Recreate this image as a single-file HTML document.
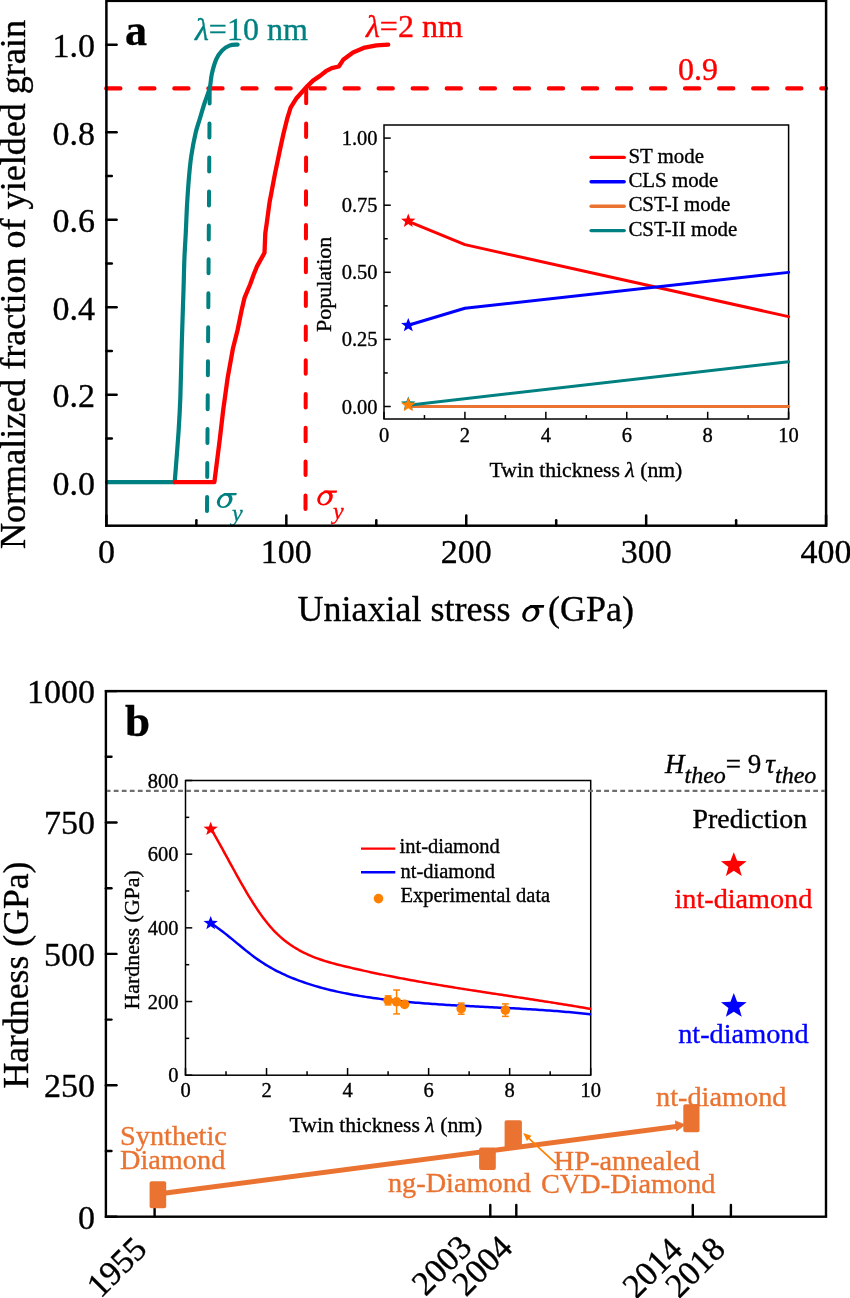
<!DOCTYPE html>
<html><head><meta charset="utf-8"><style>
html,body{margin:0;padding:0;background:#fff;overflow:hidden;}
svg{display:block;will-change:transform;}
.s{font-family:"Liberation Serif",serif;}
</style></head><body>
<svg width="850" height="1298" viewBox="0 0 850 1298">
<rect width="850" height="1298" fill="#fff"/>
<line x1="106.4" y1="482.20" x2="116.60000000000001" y2="482.20" stroke="#000" stroke-width="2.5" stroke-linecap="round"/>
<line x1="106.4" y1="438.45" x2="111.80000000000001" y2="438.45" stroke="#000" stroke-width="2.5" stroke-linecap="round"/>
<line x1="106.4" y1="394.71" x2="116.60000000000001" y2="394.71" stroke="#000" stroke-width="2.5" stroke-linecap="round"/>
<line x1="106.4" y1="350.97" x2="111.80000000000001" y2="350.97" stroke="#000" stroke-width="2.5" stroke-linecap="round"/>
<line x1="106.4" y1="307.22" x2="116.60000000000001" y2="307.22" stroke="#000" stroke-width="2.5" stroke-linecap="round"/>
<line x1="106.4" y1="263.48" x2="111.80000000000001" y2="263.48" stroke="#000" stroke-width="2.5" stroke-linecap="round"/>
<line x1="106.4" y1="219.73" x2="116.60000000000001" y2="219.73" stroke="#000" stroke-width="2.5" stroke-linecap="round"/>
<line x1="106.4" y1="175.99" x2="111.80000000000001" y2="175.99" stroke="#000" stroke-width="2.5" stroke-linecap="round"/>
<line x1="106.4" y1="132.24" x2="116.60000000000001" y2="132.24" stroke="#000" stroke-width="2.5" stroke-linecap="round"/>
<line x1="106.4" y1="88.50" x2="111.80000000000001" y2="88.50" stroke="#000" stroke-width="2.5" stroke-linecap="round"/>
<line x1="106.4" y1="44.75" x2="116.60000000000001" y2="44.75" stroke="#000" stroke-width="2.5" stroke-linecap="round"/>
<line x1="106.40" y1="525.7" x2="106.40" y2="515.5" stroke="#000" stroke-width="2.5" stroke-linecap="round"/>
<line x1="196.36" y1="525.7" x2="196.36" y2="520.3000000000001" stroke="#000" stroke-width="2.5" stroke-linecap="round"/>
<line x1="286.33" y1="525.7" x2="286.33" y2="515.5" stroke="#000" stroke-width="2.5" stroke-linecap="round"/>
<line x1="376.29" y1="525.7" x2="376.29" y2="520.3000000000001" stroke="#000" stroke-width="2.5" stroke-linecap="round"/>
<line x1="466.25" y1="525.7" x2="466.25" y2="515.5" stroke="#000" stroke-width="2.5" stroke-linecap="round"/>
<line x1="556.21" y1="525.7" x2="556.21" y2="520.3000000000001" stroke="#000" stroke-width="2.5" stroke-linecap="round"/>
<line x1="646.17" y1="525.7" x2="646.17" y2="515.5" stroke="#000" stroke-width="2.5" stroke-linecap="round"/>
<line x1="736.14" y1="525.7" x2="736.14" y2="520.3000000000001" stroke="#000" stroke-width="2.5" stroke-linecap="round"/>
<line x1="826.10" y1="525.7" x2="826.10" y2="515.5" stroke="#000" stroke-width="2.5" stroke-linecap="round"/>
<text stroke="#000" stroke-width="0.35" x="95" y="494.60" class="s" font-size="34" text-anchor="end">0.0</text>
<text stroke="#000" stroke-width="0.35" x="95" y="407.11" class="s" font-size="34" text-anchor="end">0.2</text>
<text stroke="#000" stroke-width="0.35" x="95" y="319.62" class="s" font-size="34" text-anchor="end">0.4</text>
<text stroke="#000" stroke-width="0.35" x="95" y="232.13" class="s" font-size="34" text-anchor="end">0.6</text>
<text stroke="#000" stroke-width="0.35" x="95" y="144.64" class="s" font-size="34" text-anchor="end">0.8</text>
<text stroke="#000" stroke-width="0.35" x="95" y="57.15" class="s" font-size="34" text-anchor="end">1.0</text>
<text stroke="#000" stroke-width="0.35" x="106.40" y="563" class="s" font-size="34" text-anchor="middle">0</text>
<text stroke="#000" stroke-width="0.35" x="286.33" y="563" class="s" font-size="34" text-anchor="middle">100</text>
<text stroke="#000" stroke-width="0.35" x="466.25" y="563" class="s" font-size="34" text-anchor="middle">200</text>
<text stroke="#000" stroke-width="0.35" x="646.17" y="563" class="s" font-size="34" text-anchor="middle">300</text>
<text stroke="#000" stroke-width="0.35" x="826.10" y="563" class="s" font-size="34" text-anchor="middle">400</text>
<text stroke="#000" stroke-width="0.35" transform="translate(25.3,549) rotate(-90)" class="s" font-size="36.1">Normalized fraction of yielded grain</text>
<text stroke="#000" stroke-width="0.35" x="297.5" y="621.3" class="s" font-size="36">Uniaxial stress</text>
<g transform="translate(522.1,621.8) scale(1.11)"><ellipse cx="7.9" cy="-7.45" rx="8.5" ry="6.7" transform="rotate(-40 7.9 -7.45)" fill="#000"/><ellipse cx="7.6" cy="-7.0" rx="5.9" ry="4.1" transform="rotate(-60 7.6 -7.0)" fill="#fff"/><path d="M6.5,-15.1 L20.0,-15.1 L19.5,-12.7 L9,-12.6 Z" fill="#000"/></g>
<text stroke="#000" stroke-width="0.35" x="548" y="621.3" class="s" font-size="36">(GPa)</text>
<text stroke="#000" stroke-width="0.35" x="125" y="45" class="s" font-size="44" font-weight="bold">a</text>
<line x1="106.2" y1="88.4" x2="826.1" y2="88.4" stroke="#ff0000" stroke-width="4.2" stroke-dasharray="14.2 19.85" stroke-linecap="round"/>
<line x1="209.7" y1="89.6" x2="207" y2="511.5" stroke="#008080" stroke-width="4" stroke-dasharray="14 19.95" stroke-linecap="round"/>
<line x1="306.2" y1="89.8" x2="305.5" y2="510" stroke="#ff0000" stroke-width="4" stroke-dasharray="13.5 20.3" stroke-linecap="round"/>
<polyline points="107.00,482.10 174.70,482.10" fill="none" stroke="#008080" stroke-width="4.2" stroke-linejoin="round" stroke-linecap="round" />
<path d="M174.70,482.10 C175.35,473.62 177.65,445.57 178.60,431.20 C179.55,416.83 179.87,410.60 180.40,395.90 C180.93,381.20 181.28,360.65 181.80,343.00 C182.32,325.35 183.07,304.03 183.50,290.00 C183.93,275.97 184.02,268.40 184.40,258.80 C184.78,249.20 185.37,241.22 185.80,232.40 C186.23,223.58 186.50,214.73 187.00,205.90 C187.50,197.07 188.10,187.63 188.80,179.40 C189.50,171.17 190.07,164.23 191.20,156.50 C192.33,148.77 194.13,139.38 195.60,133.00 C197.07,126.62 198.53,123.12 200.00,118.20 C201.47,113.28 202.78,108.53 204.40,103.50 C206.02,98.47 208.47,92.90 209.70,88.00 C210.93,83.10 210.72,78.87 211.80,74.10 C212.88,69.33 214.50,63.32 216.20,59.40 C217.90,55.48 219.80,52.90 222.00,50.60 C224.20,48.30 226.80,46.60 229.40,45.60 C232.00,44.60 236.23,44.77 237.60,44.60" fill="none" stroke="#008080" stroke-width="4.2" stroke-linejoin="round" stroke-linecap="round" />
<polyline points="174.70,482.10 214.40,482.10 219.70,440.00 223.20,410.00 227.60,378.20 233.00,348.20 237.60,330.00 241.80,309.40 244.60,297.60 250.10,284.50 253.60,274.80 257.00,266.40 264.50,252.80 265.30,233.20 266.70,223.50 269.50,202.70 271.60,191.60 275.00,173.60 279.90,150.00 283.50,133.50 287.00,119.40 290.60,107.60 296.50,98.20 305.90,87.60 313.00,80.60 320.00,75.90 325.90,71.20 331.80,68.10 338.80,66.50 343.50,59.40 353.00,52.40 364.70,47.60 376.50,45.30 388.20,44.70" fill="none" stroke="#ff0000" stroke-width="4.3" stroke-linejoin="round" stroke-linecap="round" />
<text stroke="#008080" stroke-width="0.35" x="195" y="40.3" class="s" font-size="32" fill="#008080"><tspan font-style="italic">λ</tspan>=10 nm</text>
<text stroke="#ff0000" stroke-width="0.35" x="366" y="36.5" class="s" font-size="32" fill="#ff0000"><tspan font-style="italic">λ</tspan>=2 nm</text>
<text stroke="#ff0000" stroke-width="0.35" x="678" y="79.6" class="s" font-size="32" fill="#ff0000">0.9</text>
<g transform="translate(216.8,508) scale(1.0)"><ellipse cx="7.9" cy="-7.45" rx="8.5" ry="6.7" transform="rotate(-40 7.9 -7.45)" fill="#008080"/><ellipse cx="7.6" cy="-7.0" rx="5.9" ry="4.1" transform="rotate(-60 7.6 -7.0)" fill="#fff"/><path d="M6.5,-15.1 L20.0,-15.1 L19.5,-12.7 L9,-12.6 Z" fill="#008080"/></g>
<text stroke="#008080" stroke-width="0.35" x="232" y="521" class="s" font-size="24" font-style="italic" fill="#008080">y</text>
<g transform="translate(317.1,505.5) scale(1.0)"><ellipse cx="7.9" cy="-7.45" rx="8.5" ry="6.7" transform="rotate(-40 7.9 -7.45)" fill="#ff0000"/><ellipse cx="7.6" cy="-7.0" rx="5.9" ry="4.1" transform="rotate(-60 7.6 -7.0)" fill="#fff"/><path d="M6.5,-15.1 L20.0,-15.1 L19.5,-12.7 L9,-12.6 Z" fill="#ff0000"/></g>
<text stroke="#ff0000" stroke-width="0.35" x="333" y="518.7" class="s" font-size="24" font-style="italic" fill="#ff0000">y</text>
<rect x="106.4" y="0.85" width="719.7" height="524.85" fill="none" stroke="#000" stroke-width="2.5"/>
<rect x="384.0" y="125.0" width="404.6" height="294.0" fill="#fff" stroke="#000" stroke-width="1.5"/>
<line x1="384.0" y1="406.50" x2="390.75" y2="406.50" stroke="#000" stroke-width="1.5"/>
<line x1="384.0" y1="372.95" x2="387.75" y2="372.95" stroke="#000" stroke-width="1.5"/>
<line x1="384.0" y1="339.40" x2="390.75" y2="339.40" stroke="#000" stroke-width="1.5"/>
<line x1="384.0" y1="305.85" x2="387.75" y2="305.85" stroke="#000" stroke-width="1.5"/>
<line x1="384.0" y1="272.30" x2="390.75" y2="272.30" stroke="#000" stroke-width="1.5"/>
<line x1="384.0" y1="238.75" x2="387.75" y2="238.75" stroke="#000" stroke-width="1.5"/>
<line x1="384.0" y1="205.20" x2="390.75" y2="205.20" stroke="#000" stroke-width="1.5"/>
<line x1="384.0" y1="171.65" x2="387.75" y2="171.65" stroke="#000" stroke-width="1.5"/>
<line x1="384.0" y1="138.10" x2="390.75" y2="138.10" stroke="#000" stroke-width="1.5"/>
<line x1="384.00" y1="419.0" x2="384.00" y2="411.75" stroke="#000" stroke-width="1.5"/>
<line x1="424.46" y1="419.0" x2="424.46" y2="415.05" stroke="#000" stroke-width="1.5"/>
<line x1="464.92" y1="419.0" x2="464.92" y2="411.75" stroke="#000" stroke-width="1.5"/>
<line x1="505.38" y1="419.0" x2="505.38" y2="415.05" stroke="#000" stroke-width="1.5"/>
<line x1="545.84" y1="419.0" x2="545.84" y2="411.75" stroke="#000" stroke-width="1.5"/>
<line x1="586.30" y1="419.0" x2="586.30" y2="415.05" stroke="#000" stroke-width="1.5"/>
<line x1="626.76" y1="419.0" x2="626.76" y2="411.75" stroke="#000" stroke-width="1.5"/>
<line x1="667.22" y1="419.0" x2="667.22" y2="415.05" stroke="#000" stroke-width="1.5"/>
<line x1="707.68" y1="419.0" x2="707.68" y2="411.75" stroke="#000" stroke-width="1.5"/>
<line x1="748.14" y1="419.0" x2="748.14" y2="415.05" stroke="#000" stroke-width="1.5"/>
<line x1="788.60" y1="419.0" x2="788.60" y2="411.75" stroke="#000" stroke-width="1.5"/>
<text stroke="#000" stroke-width="0.35" x="377.5" y="413.50" class="s" font-size="20.5" text-anchor="end">0.00</text>
<text stroke="#000" stroke-width="0.35" x="377.5" y="346.40" class="s" font-size="20.5" text-anchor="end">0.25</text>
<text stroke="#000" stroke-width="0.35" x="377.5" y="279.30" class="s" font-size="20.5" text-anchor="end">0.50</text>
<text stroke="#000" stroke-width="0.35" x="377.5" y="212.20" class="s" font-size="20.5" text-anchor="end">0.75</text>
<text stroke="#000" stroke-width="0.35" x="377.5" y="145.10" class="s" font-size="20.5" text-anchor="end">1.00</text>
<text stroke="#000" stroke-width="0.35" x="384.00" y="441.5" class="s" font-size="20.5" text-anchor="middle">0</text>
<text stroke="#000" stroke-width="0.35" x="464.92" y="441.5" class="s" font-size="20.5" text-anchor="middle">2</text>
<text stroke="#000" stroke-width="0.35" x="545.84" y="441.5" class="s" font-size="20.5" text-anchor="middle">4</text>
<text stroke="#000" stroke-width="0.35" x="626.76" y="441.5" class="s" font-size="20.5" text-anchor="middle">6</text>
<text stroke="#000" stroke-width="0.35" x="707.68" y="441.5" class="s" font-size="20.5" text-anchor="middle">8</text>
<text stroke="#000" stroke-width="0.35" x="788.60" y="441.5" class="s" font-size="20.5" text-anchor="middle">10</text>
<text stroke="#000" stroke-width="0.35" transform="translate(331,332) rotate(-90)" class="s" font-size="22">Population</text>
<text stroke="#000" stroke-width="0.35" x="489.5" y="476.5" class="s" font-size="21.7">Twin thickness <tspan font-style="italic">λ</tspan> (nm)</text>
<polyline points="408.28,221.30 464.92,244.65 788.60,316.59" fill="none" stroke="#ff0000" stroke-width="3" stroke-linejoin="round" stroke-linecap="round" />
<polyline points="408.28,325.31 464.92,308.27 788.60,272.38" fill="none" stroke="#0000ff" stroke-width="3" stroke-linejoin="round" stroke-linecap="round" />
<polyline points="408.28,406.50 788.60,406.50" fill="none" stroke="#ea7331" stroke-width="3" stroke-linejoin="round" stroke-linecap="round" />
<polyline points="408.28,405.16 788.60,361.78" fill="none" stroke="#008080" stroke-width="3" stroke-linejoin="round" stroke-linecap="round" />
<polygon points="408.28,213.60 410.16,218.49 415.52,218.71 411.32,221.96 412.76,226.99 408.28,224.11 403.80,226.99 405.23,221.96 401.03,218.71 406.39,218.49" fill="#ff0000"/>
<polygon points="408.28,317.91 410.16,322.79 415.52,323.02 411.32,326.27 412.76,331.30 408.28,328.42 403.80,331.30 405.23,326.27 401.03,323.02 406.39,322.79" fill="#0000ff"/>
<polygon points="408.28,396.42 410.16,401.30 415.52,401.53 411.32,404.78 412.76,409.80 408.28,406.92 403.80,409.80 405.23,404.78 401.03,401.53 406.39,401.30" fill="#008080"/>
<polygon points="408.28,397.40 410.21,402.42 415.72,402.65 411.40,405.99 412.88,411.15 408.28,408.19 403.67,411.15 405.15,405.99 400.83,402.65 406.34,402.42" fill="#ff8000"/>
<line x1="591.1" y1="157.40" x2="624.2" y2="157.40" stroke="#ff0000" stroke-width="3.4" stroke-linecap="round"/>
<text stroke="#000" stroke-width="0.35" x="628.4" y="162.60" class="s" font-size="20.9">ST mode</text>
<line x1="591.1" y1="181.80" x2="624.2" y2="181.80" stroke="#0000ff" stroke-width="3.4" stroke-linecap="round"/>
<text stroke="#000" stroke-width="0.35" x="628.4" y="187.00" class="s" font-size="20.9">CLS mode</text>
<line x1="591.1" y1="206.20" x2="624.2" y2="206.20" stroke="#ea7331" stroke-width="3.4" stroke-linecap="round"/>
<text stroke="#000" stroke-width="0.35" x="628.4" y="211.40" class="s" font-size="20.9">CST-I mode</text>
<line x1="591.1" y1="230.60" x2="624.2" y2="230.60" stroke="#008080" stroke-width="3.4" stroke-linecap="round"/>
<text stroke="#000" stroke-width="0.35" x="628.4" y="235.80" class="s" font-size="20.9">CST-II mode</text>
<line x1="105.9" y1="1216.70" x2="116.5" y2="1216.70" stroke="#000" stroke-width="2.4" stroke-linecap="round"/>
<line x1="105.9" y1="1151.00" x2="111.5" y2="1151.00" stroke="#000" stroke-width="2.4" stroke-linecap="round"/>
<line x1="105.9" y1="1085.30" x2="116.5" y2="1085.30" stroke="#000" stroke-width="2.4" stroke-linecap="round"/>
<line x1="105.9" y1="1019.60" x2="111.5" y2="1019.60" stroke="#000" stroke-width="2.4" stroke-linecap="round"/>
<line x1="105.9" y1="953.90" x2="116.5" y2="953.90" stroke="#000" stroke-width="2.4" stroke-linecap="round"/>
<line x1="105.9" y1="888.20" x2="111.5" y2="888.20" stroke="#000" stroke-width="2.4" stroke-linecap="round"/>
<line x1="105.9" y1="822.50" x2="116.5" y2="822.50" stroke="#000" stroke-width="2.4" stroke-linecap="round"/>
<line x1="105.9" y1="756.80" x2="111.5" y2="756.80" stroke="#000" stroke-width="2.4" stroke-linecap="round"/>
<line x1="105.9" y1="691.10" x2="116.5" y2="691.10" stroke="#000" stroke-width="2.4" stroke-linecap="round"/>
<line x1="154.6" y1="1216.7" x2="154.6" y2="1204.9" stroke="#000" stroke-width="2.4" stroke-linecap="round"/>
<line x1="490.3" y1="1216.7" x2="490.3" y2="1204.9" stroke="#000" stroke-width="2.4" stroke-linecap="round"/>
<line x1="516.3" y1="1216.7" x2="516.3" y2="1204.9" stroke="#000" stroke-width="2.4" stroke-linecap="round"/>
<line x1="692.8" y1="1216.7" x2="692.8" y2="1204.9" stroke="#000" stroke-width="2.4" stroke-linecap="round"/>
<line x1="730.9" y1="1216.7" x2="730.9" y2="1204.9" stroke="#000" stroke-width="2.4" stroke-linecap="round"/>
<text stroke="#000" stroke-width="0.35" x="95" y="1228.50" class="s" font-size="34" text-anchor="end">0</text>
<text stroke="#000" stroke-width="0.35" x="95" y="1097.10" class="s" font-size="34" text-anchor="end">250</text>
<text stroke="#000" stroke-width="0.35" x="95" y="965.70" class="s" font-size="34" text-anchor="end">500</text>
<text stroke="#000" stroke-width="0.35" x="95" y="834.30" class="s" font-size="34" text-anchor="end">750</text>
<text stroke="#000" stroke-width="0.35" x="95" y="702.90" class="s" font-size="34" text-anchor="end">1000</text>
<text stroke="#000" stroke-width="0.35" transform="translate(28,1088.5) rotate(-90)" class="s" font-size="35.7">Hardness (GPa)</text>
<text stroke="#000" stroke-width="0.35" x="125" y="736" class="s" font-size="45" font-weight="bold">b</text>
<text stroke="#000" stroke-width="0.35" transform="translate(148.5,1251) rotate(-45)" class="s" font-size="34" text-anchor="end">1955</text>
<text stroke="#000" stroke-width="0.35" transform="translate(473.5,1249) rotate(-45)" class="s" font-size="34" text-anchor="end">2003</text>
<text stroke="#000" stroke-width="0.35" transform="translate(514.2,1249.5) rotate(-45)" class="s" font-size="34" text-anchor="end">2004</text>
<text stroke="#000" stroke-width="0.35" transform="translate(684.3,1251.7) rotate(-45)" class="s" font-size="34" text-anchor="end">2014</text>
<text stroke="#000" stroke-width="0.35" transform="translate(727,1251.1) rotate(-45)" class="s" font-size="34" text-anchor="end">2018</text>
<line x1="160" y1="1193.8" x2="680" y2="1126" stroke="#ea7331" stroke-width="5"/>
<polygon points="685,1124.8 675.4,1120.9 676.6,1130.9" fill="#ea7331" stroke="#ea7331" stroke-width="0.8" stroke-linejoin="round"/>
<rect x="149.6" y="1181.3" width="16.60" height="26.90" rx="2" fill="#ea7331"/>
<rect x="479.1" y="1147.4" width="16.70" height="22.60" rx="2" fill="#ea7331"/>
<rect x="504.6" y="1120.3" width="17.30" height="28.10" rx="2" fill="#ea7331"/>
<rect x="683.3" y="1104.2" width="16.20" height="28.00" rx="2" fill="#ea7331"/>
<line x1="555.8" y1="1163.3" x2="527.5" y2="1137.2" stroke="#ff8000" stroke-width="1.7" stroke-linecap="round"/>
<polygon points="523.2,1133.0 531.4,1135.8 527.0,1141.0" fill="#ff8000"/>
<text stroke="#ea7331" stroke-width="0.35" x="120" y="1144.6" class="s" font-size="28.3" fill="#ea7331">Synthetic</text>
<text stroke="#ea7331" stroke-width="0.35" x="120" y="1169.3" class="s" font-size="28.3" fill="#ea7331">Diamond</text>
<text stroke="#ea7331" stroke-width="0.35" x="531" y="1192.1" class="s" font-size="28.3" fill="#ea7331" text-anchor="end">ng-Diamond</text>
<text stroke="#ea7331" stroke-width="0.35" x="700" y="1169.6" class="s" font-size="28.3" fill="#ea7331" text-anchor="end">HP-annealed</text>
<text stroke="#ea7331" stroke-width="0.35" x="715.5" y="1192.6" class="s" font-size="28.3" fill="#ea7331" text-anchor="end">CVD-Diamond</text>
<text stroke="#ea7331" stroke-width="0.35" x="786.5" y="1105.9" class="s" font-size="28.3" fill="#ea7331" text-anchor="end">nt-diamond</text>
<polygon points="733.80,852.20 737.13,860.85 746.63,861.25 739.19,867.00 741.73,875.90 733.80,870.80 725.87,875.90 728.41,867.00 720.97,861.25 730.47,860.85" fill="#ff0000"/>
<polygon points="733.80,993.10 737.13,1001.75 746.63,1002.15 739.19,1007.90 741.73,1016.80 733.80,1011.70 725.87,1016.80 728.41,1007.90 720.97,1002.15 730.47,1001.75" fill="#0000ff"/>
<text stroke="#000" stroke-width="0.35" x="749.8" y="827.7" class="s" font-size="27.9" text-anchor="middle">Prediction</text>
<text stroke="#ff0000" stroke-width="0.35" x="743.4" y="908" class="s" font-size="28.2" fill="#ff0000" text-anchor="middle">int-diamond</text>
<text stroke="#0000ff" stroke-width="0.35" x="743.4" y="1042.6" class="s" font-size="28.3" fill="#0000ff" text-anchor="middle">nt-diamond</text>
<text stroke="#000" stroke-width="0.35" x="665" y="772.6" class="s" font-size="27"><tspan font-style="italic">H</tspan><tspan font-style="italic" font-size="24" dy="10">theo</tspan><tspan dy="-10">= 9</tspan><tspan font-style="italic" dx="4">τ</tspan><tspan font-style="italic" font-size="24" dy="10">theo</tspan></text>
<rect x="105.9" y="691.1" width="720.1" height="525.6" fill="none" stroke="#000" stroke-width="2.4"/>
<rect x="185.5" y="780.5" width="405.20000000000005" height="294.70000000000005" fill="#fff" stroke="#000" stroke-width="1.5"/>
<line x1="185.5" y1="1075.20" x2="192.25" y2="1075.20" stroke="#000" stroke-width="1.5"/>
<line x1="185.5" y1="1038.36" x2="189.25" y2="1038.36" stroke="#000" stroke-width="1.5"/>
<line x1="185.5" y1="1001.53" x2="192.25" y2="1001.53" stroke="#000" stroke-width="1.5"/>
<line x1="185.5" y1="964.69" x2="189.25" y2="964.69" stroke="#000" stroke-width="1.5"/>
<line x1="185.5" y1="927.85" x2="192.25" y2="927.85" stroke="#000" stroke-width="1.5"/>
<line x1="185.5" y1="891.01" x2="189.25" y2="891.01" stroke="#000" stroke-width="1.5"/>
<line x1="185.5" y1="854.17" x2="192.25" y2="854.17" stroke="#000" stroke-width="1.5"/>
<line x1="185.5" y1="817.34" x2="189.25" y2="817.34" stroke="#000" stroke-width="1.5"/>
<line x1="185.5" y1="780.50" x2="192.25" y2="780.50" stroke="#000" stroke-width="1.5"/>
<line x1="185.50" y1="1075.2" x2="185.50" y2="1067.95" stroke="#000" stroke-width="1.5"/>
<line x1="226.02" y1="1075.2" x2="226.02" y2="1071.25" stroke="#000" stroke-width="1.5"/>
<line x1="266.54" y1="1075.2" x2="266.54" y2="1067.95" stroke="#000" stroke-width="1.5"/>
<line x1="307.06" y1="1075.2" x2="307.06" y2="1071.25" stroke="#000" stroke-width="1.5"/>
<line x1="347.58" y1="1075.2" x2="347.58" y2="1067.95" stroke="#000" stroke-width="1.5"/>
<line x1="388.10" y1="1075.2" x2="388.10" y2="1071.25" stroke="#000" stroke-width="1.5"/>
<line x1="428.62" y1="1075.2" x2="428.62" y2="1067.95" stroke="#000" stroke-width="1.5"/>
<line x1="469.14" y1="1075.2" x2="469.14" y2="1071.25" stroke="#000" stroke-width="1.5"/>
<line x1="509.66" y1="1075.2" x2="509.66" y2="1067.95" stroke="#000" stroke-width="1.5"/>
<line x1="550.18" y1="1075.2" x2="550.18" y2="1071.25" stroke="#000" stroke-width="1.5"/>
<line x1="590.70" y1="1075.2" x2="590.70" y2="1067.95" stroke="#000" stroke-width="1.5"/>
<text stroke="#000" stroke-width="0.35" x="178.5" y="1082.20" class="s" font-size="20.5" text-anchor="end">0</text>
<text stroke="#000" stroke-width="0.35" x="178.5" y="1008.53" class="s" font-size="20.5" text-anchor="end">200</text>
<text stroke="#000" stroke-width="0.35" x="178.5" y="934.85" class="s" font-size="20.5" text-anchor="end">400</text>
<text stroke="#000" stroke-width="0.35" x="178.5" y="861.17" class="s" font-size="20.5" text-anchor="end">600</text>
<text stroke="#000" stroke-width="0.35" x="178.5" y="787.50" class="s" font-size="20.5" text-anchor="end">800</text>
<text stroke="#000" stroke-width="0.35" x="185.50" y="1096.5" class="s" font-size="20.5" text-anchor="middle">0</text>
<text stroke="#000" stroke-width="0.35" x="266.54" y="1096.5" class="s" font-size="20.5" text-anchor="middle">2</text>
<text stroke="#000" stroke-width="0.35" x="347.58" y="1096.5" class="s" font-size="20.5" text-anchor="middle">4</text>
<text stroke="#000" stroke-width="0.35" x="428.62" y="1096.5" class="s" font-size="20.5" text-anchor="middle">6</text>
<text stroke="#000" stroke-width="0.35" x="509.66" y="1096.5" class="s" font-size="20.5" text-anchor="middle">8</text>
<text stroke="#000" stroke-width="0.35" x="590.70" y="1096.5" class="s" font-size="20.5" text-anchor="middle">10</text>
<text stroke="#000" stroke-width="0.35" transform="translate(138.6,1009.5) rotate(-90)" class="s" font-size="21.9">Hardness (GPa)</text>
<text stroke="#000" stroke-width="0.35" x="289.5" y="1132" class="s" font-size="21.7">Twin thickness <tspan font-style="italic">λ</tspan> (nm)</text>
<line x1="107.1" y1="790.9" x2="824.8" y2="790.9" stroke="#6e6e6e" stroke-width="2.2" stroke-dasharray="4.8 3.24" stroke-dashoffset="1.4"/>
<polyline points="210.60,828.02 212.99,832.14 215.37,836.33 217.76,840.58 220.15,844.87 222.53,849.20 224.92,853.56 227.31,857.93 229.69,862.30 232.08,866.67 234.47,871.01 236.85,875.33 239.24,879.60 241.63,883.82 244.02,887.98 246.40,892.06 248.79,896.06 251.18,899.96 253.56,903.75 255.95,907.42 258.34,910.97 260.72,914.38 263.11,917.65 265.50,920.79 267.88,923.77 270.27,926.61 272.66,929.29 275.04,931.82 277.43,934.19 279.82,936.41 282.20,938.50 284.59,940.46 286.98,942.30 289.36,944.03 291.75,945.66 294.14,947.20 296.52,948.65 298.91,950.03 301.30,951.33 303.68,952.56 306.07,953.73 308.46,954.83 310.85,955.87 313.23,956.86 315.62,957.79 318.01,958.68 320.39,959.52 322.78,960.31 325.17,961.07 327.55,961.80 329.94,962.49 332.33,963.16 334.71,963.80 337.10,964.42 339.49,965.02 341.87,965.61 344.26,966.19 346.65,966.76 349.03,967.33 351.42,967.89 353.81,968.44 356.19,968.99 358.58,969.53 360.97,970.07 363.35,970.60 365.74,971.12 368.13,971.64 370.52,972.16 372.90,972.67 375.29,973.17 377.68,973.67 380.06,974.16 382.45,974.65 384.84,975.13 387.22,975.61 389.61,976.09 392.00,976.56 394.38,977.02 396.77,977.48 399.16,977.94 401.54,978.39 403.93,978.84 406.32,979.29 408.70,979.73 411.09,980.17 413.48,980.60 415.86,981.03 418.25,981.45 420.64,981.88 423.02,982.30 425.41,982.71 427.80,983.12 430.18,983.53 432.57,983.94 434.96,984.34 437.35,984.75 439.73,985.14 442.12,985.54 444.51,985.93 446.89,986.32 449.28,986.71 451.67,987.10 454.05,987.48 456.44,987.86 458.83,988.24 461.21,988.62 463.60,989.00 465.99,989.37 468.37,989.75 470.76,990.12 473.15,990.49 475.53,990.86 477.92,991.22 480.31,991.59 482.69,991.96 485.08,992.32 487.47,992.68 489.85,993.05 492.24,993.41 494.63,993.77 497.02,994.13 499.40,994.49 501.79,994.85 504.18,995.21 506.56,995.57 508.95,995.93 511.34,996.29 513.72,996.65 516.11,997.01 518.50,997.37 520.88,997.74 523.27,998.10 525.66,998.46 528.04,998.82 530.43,999.19 532.82,999.55 535.20,999.92 537.59,1000.28 539.98,1000.65 542.36,1001.02 544.75,1001.39 547.14,1001.76 549.52,1002.14 551.91,1002.51 554.30,1002.89 556.68,1003.27 559.07,1003.65 561.46,1004.03 563.85,1004.42 566.23,1004.80 568.62,1005.19 571.01,1005.59 573.39,1005.98 575.78,1006.38 578.17,1006.78 580.55,1007.18 582.94,1007.58 585.33,1007.99 587.71,1008.40 590.10,1008.82" fill="none" stroke="#ff0000" stroke-width="2.5" stroke-linejoin="round" stroke-linecap="round" />
<polyline points="210.60,922.98 212.99,924.55 215.37,926.19 217.76,927.90 220.15,929.67 222.53,931.49 224.92,933.36 227.31,935.26 229.69,937.19 232.08,939.15 234.47,941.11 236.85,943.09 239.24,945.06 241.63,947.02 244.02,948.96 246.40,950.88 248.79,952.77 251.18,954.63 253.56,956.43 255.95,958.18 258.34,959.88 260.72,961.50 263.11,963.07 265.50,964.58 267.88,966.03 270.27,967.42 272.66,968.76 275.04,970.05 277.43,971.28 279.82,972.47 282.20,973.62 284.59,974.73 286.98,975.79 289.36,976.81 291.75,977.80 294.14,978.76 296.52,979.68 298.91,980.57 301.30,981.44 303.68,982.28 306.07,983.10 308.46,983.88 310.85,984.65 313.23,985.39 315.62,986.11 318.01,986.80 320.39,987.48 322.78,988.13 325.17,988.76 327.55,989.37 329.94,989.96 332.33,990.54 334.71,991.09 337.10,991.63 339.49,992.14 341.87,992.65 344.26,993.13 346.65,993.60 349.03,994.06 351.42,994.50 353.81,994.92 356.19,995.34 358.58,995.74 360.97,996.13 363.35,996.51 365.74,996.87 368.13,997.23 370.52,997.58 372.90,997.91 375.29,998.24 377.68,998.56 380.06,998.88 382.45,999.18 384.84,999.47 387.22,999.76 389.61,1000.04 392.00,1000.31 394.38,1000.58 396.77,1000.84 399.16,1001.09 401.54,1001.33 403.93,1001.57 406.32,1001.80 408.70,1002.02 411.09,1002.24 413.48,1002.45 415.86,1002.65 418.25,1002.85 420.64,1003.05 423.02,1003.24 425.41,1003.42 427.80,1003.60 430.18,1003.78 432.57,1003.95 434.96,1004.12 437.35,1004.28 439.73,1004.44 442.12,1004.59 444.51,1004.74 446.89,1004.89 449.28,1005.03 451.67,1005.17 454.05,1005.31 456.44,1005.45 458.83,1005.58 461.21,1005.71 463.60,1005.84 465.99,1005.96 468.37,1006.09 470.76,1006.21 473.15,1006.33 475.53,1006.45 477.92,1006.57 480.31,1006.69 482.69,1006.81 485.08,1006.93 487.47,1007.04 489.85,1007.16 492.24,1007.28 494.63,1007.39 497.02,1007.51 499.40,1007.63 501.79,1007.75 504.18,1007.87 506.56,1007.99 508.95,1008.11 511.34,1008.23 513.72,1008.36 516.11,1008.48 518.50,1008.61 520.88,1008.74 523.27,1008.88 525.66,1009.01 528.04,1009.15 530.43,1009.29 532.82,1009.44 535.20,1009.59 537.59,1009.74 539.98,1009.90 542.36,1010.05 544.75,1010.22 547.14,1010.39 549.52,1010.56 551.91,1010.73 554.30,1010.92 556.68,1011.10 559.07,1011.29 561.46,1011.49 563.85,1011.69 566.23,1011.90 568.62,1012.11 571.01,1012.33 573.39,1012.56 575.78,1012.79 578.17,1013.03 580.55,1013.27 582.94,1013.53 585.33,1013.79 587.71,1014.05 590.10,1014.33" fill="none" stroke="#0000ff" stroke-width="2.5" stroke-linejoin="round" stroke-linecap="round" />
<polygon points="210.70,821.80 212.56,826.62 217.85,826.84 213.70,830.05 215.12,835.01 210.70,832.17 206.28,835.01 207.70,830.05 203.55,826.84 208.84,826.62" fill="#ff0000"/>
<polygon points="210.70,916.00 212.56,920.82 217.85,921.04 213.70,924.25 215.12,929.21 210.70,926.37 206.28,929.21 207.70,924.25 203.55,921.04 208.84,920.82" fill="#0000ff"/>
<line x1="388.1" y1="995.9" x2="388.1" y2="1004.9" stroke="#ff8000" stroke-width="1.5"/>
<line x1="384.70000000000005" y1="995.9" x2="391.5" y2="995.9" stroke="#ff8000" stroke-width="1.5"/>
<line x1="384.70000000000005" y1="1004.9" x2="391.5" y2="1004.9" stroke="#ff8000" stroke-width="1.5"/>
<circle cx="388.1" cy="1000.4" r="4.8" fill="#ff8000"/>
<line x1="396.6" y1="990" x2="396.6" y2="1013.9" stroke="#ff8000" stroke-width="1.5"/>
<line x1="393.20000000000005" y1="990" x2="400.0" y2="990" stroke="#ff8000" stroke-width="1.5"/>
<line x1="393.20000000000005" y1="1013.9" x2="400.0" y2="1013.9" stroke="#ff8000" stroke-width="1.5"/>
<circle cx="396.6" cy="1001.8" r="4.8" fill="#ff8000"/>
<circle cx="404.6" cy="1004.4" r="4.8" fill="#ff8000"/>
<line x1="461.2" y1="1003.1" x2="461.2" y2="1014.2" stroke="#ff8000" stroke-width="1.5"/>
<line x1="457.8" y1="1003.1" x2="464.59999999999997" y2="1003.1" stroke="#ff8000" stroke-width="1.5"/>
<line x1="457.8" y1="1014.2" x2="464.59999999999997" y2="1014.2" stroke="#ff8000" stroke-width="1.5"/>
<circle cx="461.2" cy="1008.7" r="4.8" fill="#ff8000"/>
<line x1="505.4" y1="1003.9" x2="505.4" y2="1016.4" stroke="#ff8000" stroke-width="1.5"/>
<line x1="502.0" y1="1003.9" x2="508.79999999999995" y2="1003.9" stroke="#ff8000" stroke-width="1.5"/>
<line x1="502.0" y1="1016.4" x2="508.79999999999995" y2="1016.4" stroke="#ff8000" stroke-width="1.5"/>
<circle cx="505.4" cy="1010.1" r="4.8" fill="#ff8000"/>
<line x1="361" y1="848.6" x2="395.3" y2="848.6" stroke="#ff0000" stroke-width="2.4"/>
<line x1="361" y1="872.2" x2="395.3" y2="872.2" stroke="#0000ff" stroke-width="2.4"/>
<circle cx="378.5" cy="898.6" r="4.8" fill="#ff8000"/>
<text stroke="#000" stroke-width="0.35" x="399.5" y="853.3" class="s" font-size="20.5">int-diamond</text>
<text stroke="#000" stroke-width="0.35" x="400.5" y="877.9" class="s" font-size="20.5">nt-diamond</text>
<text stroke="#000" stroke-width="0.35" x="400.5" y="902" class="s" font-size="20.5">Experimental data</text>
</svg>
</body></html>
